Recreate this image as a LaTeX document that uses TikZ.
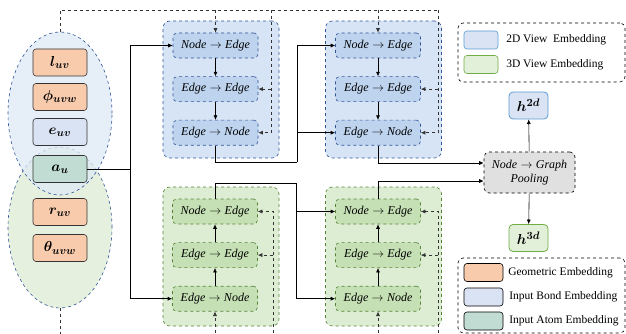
\documentclass[tikz,border=0pt]{standalone}
\usepackage{amsmath}
\usepackage{bm}
\usepackage{fontspec}
\setmainfont{Liberation Serif}
\usetikzlibrary{positioning,arrows.meta,shapes.geometric}
\definecolor{geoC}{HTML}{F8CBAD}
\definecolor{bondC}{HTML}{DAE3F3}
\definecolor{atomC}{HTML}{C0DCD3}
\definecolor{ellD}{HTML}{2F5597}
\definecolor{ellB}{HTML}{DEEAF6}
\definecolor{ellG}{HTML}{E6F0DE}
\definecolor{panB}{HTML}{D6E4F5}
\definecolor{boxB}{HTML}{BDD3EE}
\definecolor{lineB}{HTML}{2F5597}
\definecolor{panG}{HTML}{DDEDD3}
\definecolor{boxG}{HTML}{C5E0B4}
\definecolor{lineG}{HTML}{548235}
\definecolor{hB}{HTML}{5B9BD5}
\definecolor{hG}{HTML}{70AD47}
\definecolor{hGfill}{HTML}{E2F0D9}
\definecolor{poolC}{HTML}{E0E0E0}

\begin{document}
\begin{tikzpicture}[x=1pt,y=-1pt,>={Latex[length=4.5pt,width=4pt]},node distance=18pt,line width=0.6pt,
	emb/.style={draw=black!80,rounded corners=3pt,minimum width=54pt,minimum height=27pt,inner sep=0pt,font=\fontsize{15}{17}\selectfont},
	geo/.style={emb,fill=geoC},
	bond/.style={emb,fill=bondC},
	atom/.style={emb,fill=atomC},
	blk/.style={rounded corners=4pt,dashed,minimum width=85pt,minimum height=25pt,inner sep=0pt,font=\fontsize{12}{14}\selectfont},
	blk2d/.style={blk,draw=lineB,fill=boxB},
	blk3d/.style={blk,draw=lineG,fill=boxG},
	panel/.style={rounded corners=7pt,dashed,minimum width=116pt,inner sep=0pt},
	hbox/.style={rounded corners=4pt,line width=0.8pt,minimum width=39pt,minimum height=27pt,inner sep=0pt,font=\fontsize{15}{17}\selectfont},
	sw/.style={rounded corners=3pt,minimum height=18pt,inner sep=0pt},
	legtxt/.style={font=\fontsize{11.5}{13}\selectfont,inner sep=0pt,anchor=west},
	fb/.style={dashed,black!80}]
	\useasboundingbox (0,0) rectangle (626,334);

	\node[ellipse,draw=ellD,dashed,fill=ellG,minimum width=104pt,minimum height=161pt,inner sep=0pt] (v3d) at (60,227.5) {};
	\node[ellipse,draw=ellD,dashed,fill=ellB,fill opacity=0.75,minimum width=104pt,minimum height=163pt,inner sep=0pt] (v2d) at (60,113.5) {};

	\node[geo] (luv) at (60,62.5) {$\bm{l_{uv}}$};
	\node[geo] (phi) at (60,97) {$\bm{\phi_{uvw}}$};
	\node[bond] (euv) at (60,132) {$\bm{e_{uv}}$};
	\node[atom] (au) at (60,169) {$\bm{a_{u}}$};
	\node[geo] (ruv) at (60,212) {$\bm{r_{uv}}$};
	\node[geo] (theta) at (60,248) {$\bm{\theta_{uvw}}$};

	\node[panel,draw=lineB,fill=panB,minimum height=137pt] (pb1) at (221,89.5) {};
	\node[panel,draw=lineB,fill=panB,minimum height=137pt] (pb2) at (383.5,89.5) {};
	\node[panel,draw=lineG,fill=panG,minimum height=139pt] (pg1) at (221,256.5) {};
	\node[panel,draw=lineG,fill=panG,minimum height=139pt] (pg2) at (383.5,256.5) {};

	\node[blk2d] (b1ne) at (215.5,45.5) {$\mathit{Node}\rightarrow\mathit{Edge}$};
	\node[blk2d] (b1ee) [below=of b1ne] {$\mathit{Edge}\rightarrow\mathit{Edge}$};
	\node[blk2d] (b1en) [below=of b1ee] {$\mathit{Edge}\rightarrow\mathit{Node}$};
	\node[blk2d] (b2ne) at (378,45.5) {$\mathit{Node}\rightarrow\mathit{Edge}$};
	\node[blk2d] (b2ee) [below=of b2ne] {$\mathit{Edge}\rightarrow\mathit{Edge}$};
	\node[blk2d] (b2en) [below=of b2ee] {$\mathit{Edge}\rightarrow\mathit{Node}$};

	\node[blk3d] (g1ne) at (215,211.5) {$\mathit{Node}\rightarrow\mathit{Edge}$};
	\node[blk3d] (g1ee) [below=of g1ne] {$\mathit{Edge}\rightarrow\mathit{Edge}$};
	\node[blk3d] (g1en) [below=of g1ee] {$\mathit{Edge}\rightarrow\mathit{Node}$};
	\node[blk3d] (g2ne) at (378,211.5) {$\mathit{Node}\rightarrow\mathit{Edge}$};
	\node[blk3d] (g2ee) [below=of g2ne] {$\mathit{Edge}\rightarrow\mathit{Edge}$};
	\node[blk3d] (g2en) [below=of g2ee] {$\mathit{Edge}\rightarrow\mathit{Node}$};

	\node[rounded corners=5pt,dashed,draw=black,fill=poolC,minimum width=91pt,minimum height=41pt,inner sep=0pt,align=center,font=\fontsize{12}{14}\selectfont] (pool) at (529.5,172.5) {$\mathit{Node}\rightarrow\mathit{Graph}$\\$\mathit{Pooling}$};
	\node[hbox,draw=hB,fill=bondC] (h2d) at (528.5,105.5) {$\bm{h^{2d}}$};
	\node[hbox,draw=hG,fill=hGfill] (h3d) at (528.5,238) {$\bm{h^{3d}}$};

	% legends
	\node[draw,dashed,rounded corners=5pt,minimum width=167pt,minimum height=59pt] (leg1) at (541.5,52.5) {};
	\node[sw,draw=hB,fill=bondC,minimum width=34pt] (sw2d) at (481,40) {};
	\node[sw,draw=hG,fill=hGfill,minimum width=34pt] (sw3d) at (481,64.5) {};
	\node[legtxt] (t2d) at (506,40) {2D View\ \ Embedding};
	\node[legtxt] (t3d) at (506,64.5) {3D View Embedding};

	\node[draw,dashed,rounded corners=5pt,minimum width=167pt,minimum height=75pt] (leg2) at (541.5,295.5) {};
	\node[sw,draw=black,fill=geoC,minimum width=39pt] (swgeo) at (483.5,272.5) {};
	\node[sw,draw=black,fill=bondC,minimum width=39pt] (swbond) at (483.5,297) {};
	\node[sw,draw=black,fill=atomC,minimum width=39pt] (swatom) at (483.5,321) {};
	\node[legtxt] (tgeo) at (508,272.5) {Geometric Embedding};
	\node[legtxt] (tbond) at (509,297) {Input Bond Embedding};
	\node[legtxt] (tatom) at (509,321) {Input Atom Embedding};

	% inside the blocks
	\draw[->] (b1ne) -- (b1ee);
	\draw[->] (b1ee) -- (b1en);
	\draw[->] (b2ne) -- (b2ee);
	\draw[->] (b2ee) -- (b2en);
	\draw[->] (g1en) -- (g1ee);
	\draw[->] (g1ee) -- (g1ne);
	\draw[->] (g2en) -- (g2ee);
	\draw[->] (g2ee) -- (g2ne);

	% forward flow
	\coordinate (sp) at (130,169);
	\draw (au.east) -- (sp);
	\draw[->] (sp) |- (b1ne.west);
	\draw[->] (sp) |- (g1en.west);
	\coordinate (j1) at (297,162);
	\draw (b1en.south) |- (j1);
	\draw[->] (j1) |- (b2ne.west);
	\draw[->] (j1 |- b2en) -- (b2en.west);
	\coordinate (j2) at (296,183);
	\draw (g1ne.north) |- (j2);
	\draw[->] (j2) |- (g2en.west);
	\draw[->] (j2 |- g2ne) -- (g2ne.west);
	\draw[->] (b2en.south) |- ([yshift=9.5pt]pool.west);
	\draw[->] (g2ne.north) |- ([yshift=-8.5pt]pool.west);
	\draw[->] (pool) -- (h2d);
	\draw[->] (pool) -- (h3d);

	% feedback rails
	\coordinate (top) at (60,10);
	\coordinate (fbB1) at (271,10);
	\coordinate (fbB2) at (438,10);
	\draw[fb] (v2d.north) |- (fbB2);
	\draw[fb,->] (fbB2) |- (b2en.east);
	\draw[fb,->] (fbB2 |- b2ee) -- (b2ee.east);
	\draw[fb,->] (fbB1) |- (b1en.east);
	\draw[fb,->] (fbB1 |- b1ee) -- (b1ee.east);
	\draw[fb,->] (b1ne.north |- top) -- (b1ne.north);
	\draw[fb,->] (b2ne.north |- top) -- (b2ne.north);

	\coordinate (bot) at (60,345);
	\coordinate (fbG1) at (273,345);
	\coordinate (fbG2) at (438,345);
	\draw[fb] (v3d.south) |- (fbG2);
	\draw[fb,->] (fbG2) |- (g2ne.east);
	\draw[fb,->] (fbG2 |- g2ee) -- (g2ee.east);
	\draw[fb,->] (fbG1) |- (g1ne.east);
	\draw[fb,->] (fbG1 |- g1ee) -- (g1ee.east);
	\draw[fb,->] (g1en.south |- bot) -- (g1en.south);
	\draw[fb,->] (g2en.south |- bot) -- (g2en.south);
\end{tikzpicture}
\end{document}
